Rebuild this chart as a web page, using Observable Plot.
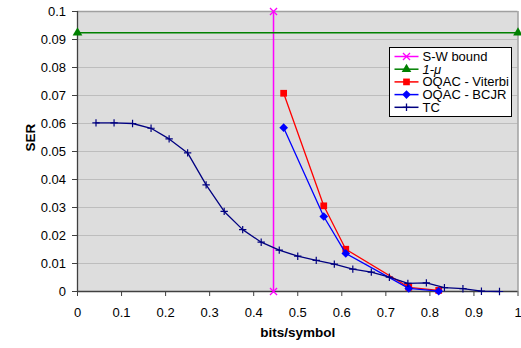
<!DOCTYPE html>
<html><head><meta charset="utf-8">
<script src="https://cdn.jsdelivr.net/npm/d3@7"></script>
<script src="https://cdn.jsdelivr.net/npm/@observablehq/plot@0.6"></script>
<style>
body{margin:0;background:#fff;}
#wrap{position:relative;width:521px;height:348px;font-family:"Liberation Sans",Arial,sans-serif;}
</style>
</head><body><div id="wrap"></div>
<script>
// ---- data ----
const xTicks = [0, 0.1, 0.2, 0.3, 0.4, 0.5, 0.6, 0.7, 0.8, 0.9, 1];
const yTicks = [0, 0.01, 0.02, 0.03, 0.04, 0.05, 0.06, 0.07, 0.08, 0.09, 0.1];

const swX = [0.445, 0.445];
const swY = [0, 0.1];

const oneMuX = [0, 1];
const oneMuY = [0.0924, 0.0924];

const oqacX = [0.468, 0.559, 0.609, 0.752, 0.820];
const viterbiY = [0.0708, 0.0306, 0.0151, 0.0015, 0.0004];
const bcjrY = [0.0585, 0.0268, 0.0136, 0.0011, 0.0001];

const tcX = [0.042, 0.083, 0.125, 0.167, 0.208, 0.25, 0.292, 0.333, 0.375, 0.417, 0.458, 0.5,
             0.542, 0.583, 0.625, 0.667, 0.708, 0.75, 0.792, 0.833, 0.875, 0.917, 0.958];
const tcY = [0.0602, 0.0602, 0.0600, 0.0583, 0.0545, 0.0495, 0.0381, 0.0286, 0.0221, 0.0176, 0.0148, 0.0126,
             0.0111, 0.0098, 0.0080, 0.0069, 0.0051, 0.0029, 0.0031, 0.0014, 0.0010, 0.0001, 0.0000];

const seriesNames = ["S-W bound", "1-\u03bc", "OQAC - Viterbi", "OQAC - BCJR", "TC"];
const seriesColors = ["#ff00ff", "#008000", "#ff0000", "#0000ff", "#000080"];

const xLabel = "bits/symbol";
const yLabel = "SER";

const zip = (xs, ys) => xs.map((x, i) => ({x, y: ys[i]}));
const sw = zip(swX, swY);
const oneMu = zip(oneMuX, oneMuY);
const vit = zip(oqacX, viterbiY);
const bcjr = zip(oqacX, bcjrY);
const tc = zip(tcX, tcY);

const chart = Plot.plot({
  width: 521, height: 348,
  marginLeft: 77, marginRight: 3.5, marginTop: 11, marginBottom: 57,
  x: {domain: [0, 1]},
  y: {domain: [0, 0.1]},
  style: {fontFamily: "'Liberation Sans', Arial, sans-serif", fontSize: "13px", background: "#fff", color: "#000", overflow: "visible"},
  marks: [
    Plot.frame({fill: "#dddddd", stroke: null}),
    Plot.ruleY(yTicks.slice(1, -1), {stroke: "#bdbdbd", strokeWidth: 1}),
    Plot.ruleY([0.1], {stroke: "#a0a0a0", strokeWidth: 1.5}),
    Plot.ruleX([1], {stroke: "#a0a0a0", strokeWidth: 1.5}),
    Plot.axisY({ticks: yTicks, tickFormat: d => String(d), tickSize: 5, tickPadding: 6.5, label: null, stroke: "#404040"}),
    Plot.axisX({ticks: xTicks, tickFormat: d => String(d), tickSize: 5, tickPadding: 11, label: null, stroke: "#404040"}),
    Plot.ruleX([0], {stroke: "#404040", strokeWidth: 1.3}),
    Plot.ruleY([0], {stroke: "#404040", strokeWidth: 1.3}),
    Plot.text([yLabel], {frameAnchor: "left", dx: -47, rotate: -90, fontWeight: "bold", fontSize: 13.5}),
    Plot.text([xLabel], {frameAnchor: "bottom", dy: 45, fontWeight: "bold", fontSize: 13.5}),
    // S-W bound
    Plot.line(sw, {x: "x", y: "y", stroke: seriesColors[0], strokeWidth: 1.5}),
    Plot.dot(sw, {x: "x", y: "y", symbol: "times", r: 3.3, stroke: seriesColors[0], strokeWidth: 1.3}),
    // 1-mu
    Plot.line(oneMu, {x: "x", y: "y", stroke: seriesColors[1], strokeWidth: 1.5}),
    Plot.dot(oneMu, {x: "x", y: "y", symbol: "triangle", r: 3.6, fill: seriesColors[1]}),
    // Viterbi
    Plot.line(vit, {x: "x", y: "y", stroke: seriesColors[2], strokeWidth: 1.3}),
    Plot.dot(vit, {x: "x", y: "y", symbol: "square", r: 3.8, fill: seriesColors[2]}),
    // BCJR
    Plot.line(bcjr, {x: "x", y: "y", stroke: seriesColors[3], strokeWidth: 1.3}),
    Plot.dot(bcjr, {x: "x", y: "y", symbol: "diamond2", r: 3.9, fill: seriesColors[3]}),
    // TC
    Plot.line(tc, {x: "x", y: "y", stroke: seriesColors[4], strokeWidth: 1.3}),
    Plot.dot(tc, {x: "x", y: "y", symbol: "plus", r: 2.5, stroke: seriesColors[4], strokeWidth: 1.2})
  ]
});
document.getElementById("wrap").appendChild(chart);

// ---- legend ----
const symTypes = [d3.symbolTimes, d3.symbolTriangle, d3.symbolSquare, d3.symbolDiamond2, d3.symbolPlus];
const symSizes = [34, 40, 45, 48, 20];
const symFilled = [false, true, true, true, false];
const lg = d3.select(chart).append("g").attr("transform", "translate(389.5,47.5)")
  .attr("text-anchor", "start");
lg.append("rect").attr("width", 122).attr("height", 69).attr("fill", "#fff").attr("stroke", "#000").attr("stroke-width", 1);
seriesNames.forEach((name, i) => {
  const cy = 9 + i * 12.7;
  const g = lg.append("g").attr("transform", `translate(0,${cy})`);
  g.append("line").attr("x1", 5).attr("x2", 29).attr("y1", 0).attr("y2", 0)
    .attr("stroke", seriesColors[i]).attr("stroke-width", 1.5);
  g.append("path").attr("transform", "translate(17,0)")
    .attr("d", d3.symbol().type(symTypes[i]).size(symSizes[i])())
    .attr("fill", symFilled[i] ? seriesColors[i] : "none")
    .attr("stroke", symFilled[i] ? "none" : seriesColors[i])
    .attr("stroke-width", 1.3);
  g.append("text").attr("x", 33).attr("y", 0).attr("dy", "0.35em")
    .attr("text-anchor", "start")
    .attr("font-size", 13).attr("font-style", i === 1 ? "italic" : "normal")
    .attr("fill", "#000").text(name);
});
</script>
</body></html>
